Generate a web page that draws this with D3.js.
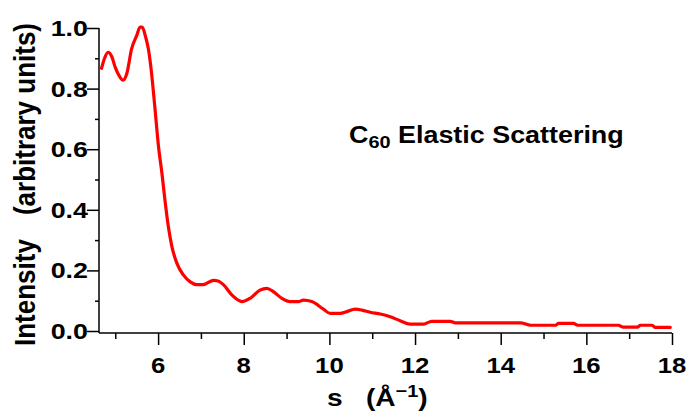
<!DOCTYPE html>
<html>
<head>
<meta charset="utf-8">
<script src="https://cdn.jsdelivr.net/npm/d3@7"></script>
<style>
  html, body { margin: 0; padding: 0; background: #fff; }
  svg text { font-family: "Liberation Sans", Arial, Helvetica, sans-serif; font-weight: bold; fill: #000; }
</style>
</head>
<body>
<svg id="chart" width="687" height="413"></svg>
<script>
// Scattering vector s (Å^-1)
const sValues = [4.68, 4.75, 4.83, 4.92, 5.0, 5.1, 5.18, 5.27, 5.38, 5.5, 5.58, 5.63, 5.7, 5.77,
  5.84, 5.89, 5.93, 6.01, 6.09, 6.16, 6.24, 6.32, 6.44, 6.59, 6.75, 6.9, 7.05, 7.18, 7.3, 7.4,
  7.53, 7.72, 7.96, 8.15, 8.38, 8.54, 8.69, 8.89, 9.08, 9.28, 9.39, 9.59, 9.86, 10.02, 10.25,
  10.41, 10.6, 10.76, 10.95, 11.19, 11.42, 11.65, 11.89, 12.2, 12.39, 12.82, 12.94, 14.46, 14.7,
  15.28, 15.35, 15.7, 15.8, 16.75, 16.85, 17.2, 17.26, 17.54, 17.6, 17.96];

// Elastic scattering intensity (arbitrary units)
const intensity = [0.867, 0.90, 0.92, 0.905, 0.87, 0.84, 0.828, 0.85, 0.93, 0.975, 1.003, 1.003,
  0.975, 0.933, 0.86, 0.79, 0.73, 0.608, 0.52, 0.432, 0.344, 0.28, 0.223, 0.185, 0.162, 0.153,
  0.153, 0.161, 0.167, 0.165, 0.152, 0.119, 0.097, 0.108, 0.135, 0.141, 0.130, 0.108, 0.097,
  0.097, 0.102, 0.097, 0.072, 0.058, 0.058, 0.064, 0.072, 0.069, 0.062, 0.056, 0.047, 0.034,
  0.023, 0.023, 0.032, 0.032, 0.027, 0.027, 0.019, 0.019, 0.025, 0.025, 0.019, 0.019, 0.013,
  0.013, 0.019, 0.019, 0.012, 0.012];

const xMajorTicks = [6, 8, 10, 12, 14, 16, 18];
const xMinorTicks = [5, 7, 9, 11, 13, 15, 17];
const yMajorTicks = [0.0, 0.2, 0.4, 0.6, 0.8, 1.0];
const yMinorTicks = [0.1, 0.3, 0.5, 0.7, 0.9];

const titleMain = "C";
const titleSub = "60";
const titleRest = " Elastic Scattering";

const svg = d3.select("#chart");
const stretch = 1.17;

const x = d3.scaleLinear().domain([4.62, 18]).range([99, 672]);
const y = d3.scaleLinear().domain([0, 1]).range([331, 28]);
const axisY = 333;

// Axis lines
svg.append("line").attr("x1", x.range()[0]).attr("x2", x.range()[1])
  .attr("y1", axisY).attr("y2", axisY).attr("stroke", "#000").attr("stroke-width", 1.5);
svg.append("line").attr("x1", x.range()[0]).attr("x2", x.range()[0])
  .attr("y1", y(1)).attr("y2", axisY).attr("stroke", "#000").attr("stroke-width", 1.5);

// X ticks
const xAxisMajor = d3.axisBottom(x).tickValues(xMajorTicks).tickSize(12).tickFormat("");
const xAxisMinor = d3.axisBottom(x).tickValues(xMinorTicks).tickSize(6).tickFormat("");
[xAxisMajor, xAxisMinor].forEach(ax => {
  const g = svg.append("g").attr("transform", `translate(0,${axisY})`).call(ax);
  g.select(".domain").remove();
  g.selectAll("line").attr("stroke", "#000").attr("stroke-width", 1.5);
});
svg.append("g").selectAll("text").data(xMajorTicks).join("text")
  .attr("transform", d => `translate(${x(d)},373) scale(${stretch},1)`)
  .attr("text-anchor", "middle").attr("font-size", 22)
  .text(d => d3.format("d")(d));

// Y ticks
const yAxisMajor = d3.axisLeft(y).tickValues(yMajorTicks).tickSize(12).tickFormat("");
const yAxisMinor = d3.axisLeft(y).tickValues(yMinorTicks).tickSize(4).tickFormat("");
[yAxisMajor, yAxisMinor].forEach(ax => {
  const g = svg.append("g").attr("transform", `translate(${x.range()[0]},0)`).call(ax);
  g.select(".domain").remove();
  g.selectAll("line").attr("stroke", "#000").attr("stroke-width", 1.5);
});
svg.append("g").selectAll("text").data(yMajorTicks).join("text")
  .attr("transform", d => `translate(88,${y(d)}) scale(1.22,1)`)
  .attr("text-anchor", "end").attr("dy", "0.36em").attr("font-size", 22)
  .text(d => d3.format(".1f")(d));

// Intensity curve
const pts = sValues.map((s, i) => [s, intensity[i]]);
const line = d3.line().x(d => x(d[0])).y(d => y(d[1])).curve(d3.curveMonotoneX);
svg.append("path").datum(pts).attr("d", line)
  .attr("fill", "none").attr("stroke", "#ff0000").attr("stroke-width", 3.2)
  .attr("stroke-linejoin", "round").attr("stroke-linecap", "round");

// Title
const title = svg.append("text")
  .attr("transform", `translate(349,143) scale(${stretch},1)`)
  .attr("font-size", 23);
title.append("tspan").text(titleMain);
title.append("tspan").attr("font-size", 17).attr("dy", 5).text(titleSub);
title.append("tspan").attr("dy", -5).text(titleRest);

// X axis label
const xl = svg.append("text")
  .attr("transform", `translate(327,406) scale(${stretch},1)`)
  .attr("font-size", 24);
xl.append("tspan").text("s");
xl.append("tspan").attr("dx", 20).text("(Å");
xl.append("tspan").attr("font-size", 17).attr("dy", -9).text("\u22121");
xl.append("tspan").attr("dy", 9).text(")");

// Y axis label
const yl = svg.append("text")
  .attr("transform", `translate(35,346) scale(1.1,1) rotate(-90)`)
  .attr("font-size", 26);
yl.append("tspan").text("Intensity");
yl.append("tspan").attr("dx", 24).text("(arbitrary units)");
</script>
</body>
</html>
